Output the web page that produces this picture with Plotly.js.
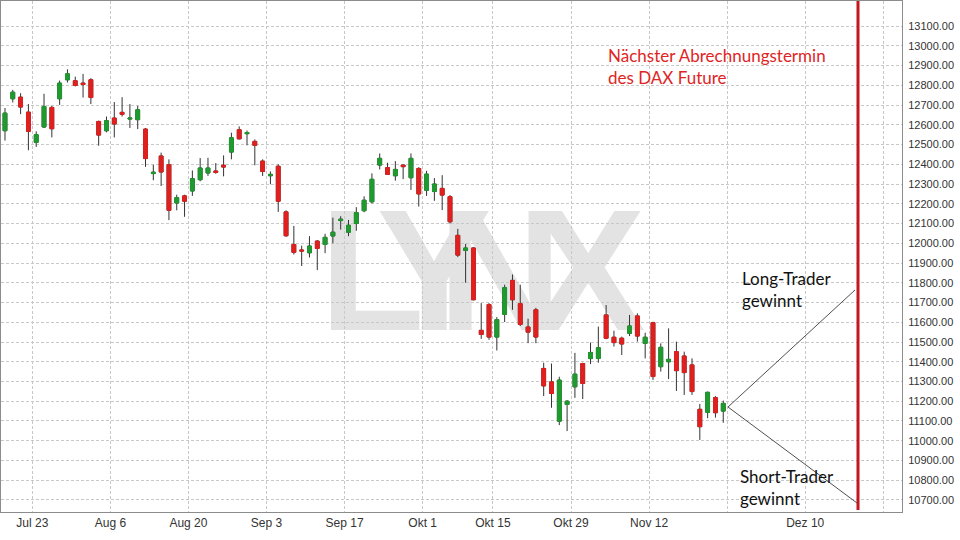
<!DOCTYPE html>
<html>
<head>
<meta charset="utf-8">
<script src="https://cdn.plot.ly/plotly-3.0.1.min.js"></script>
<style>html,body{margin:0;padding:0;background:#fff;}#chart{width:960px;height:540px;}</style>
</head>
<body>
<div id="chart"></div>
<script>
// Trading days shown (DAX, Jul 17 – Nov 23 2018; Oct 3 holiday)
const dates = [
 '2018-07-17','2018-07-18','2018-07-19','2018-07-20','2018-07-23','2018-07-24','2018-07-25','2018-07-26','2018-07-27','2018-07-30','2018-07-31',
 '2018-08-01','2018-08-02','2018-08-03','2018-08-06','2018-08-07','2018-08-08','2018-08-09','2018-08-10','2018-08-13','2018-08-14','2018-08-15',
 '2018-08-16','2018-08-17','2018-08-20','2018-08-21','2018-08-22','2018-08-23','2018-08-24','2018-08-27','2018-08-28','2018-08-29','2018-08-30','2018-08-31',
 '2018-09-03','2018-09-04','2018-09-05','2018-09-06','2018-09-07','2018-09-10','2018-09-11','2018-09-12','2018-09-13','2018-09-14','2018-09-17',
 '2018-09-18','2018-09-19','2018-09-20','2018-09-21','2018-09-24','2018-09-25','2018-09-26','2018-09-27','2018-09-28',
 '2018-10-01','2018-10-02','2018-10-04','2018-10-05','2018-10-08','2018-10-09','2018-10-10','2018-10-11','2018-10-12','2018-10-15','2018-10-16',
 '2018-10-17','2018-10-18','2018-10-19','2018-10-22','2018-10-23','2018-10-24','2018-10-25','2018-10-26','2018-10-29','2018-10-30','2018-10-31',
 '2018-11-01','2018-11-02','2018-11-05','2018-11-06','2018-11-07','2018-11-08','2018-11-09','2018-11-12','2018-11-13','2018-11-14','2018-11-15',
 '2018-11-16','2018-11-19','2018-11-20','2018-11-21','2018-11-22','2018-11-23'
];
const openP = [
 12570,12732,12740,12664,12511,12589,12688,12732,12828,12823,12811,
 12828,12617,12570,12634,12663,12629,12626,12578,12353,12442,12398,
 12204,12240,12265,12322,12356,12366,12395,12462,12575,12555,12516,12416,
 12342,12390,12159,11994,11966,11952,12011,11994,12037,12115,12056,
 12100,12165,12210,12396,12383,12342,12396,12332,12379,
 12268,12262,12278,12236,12040,11964,11976,11559,11690,11525,11640,
 11812,11694,11576,11663,11366,11298,11099,11184,11273,11391,11416,
 11417,11637,11524,11519,11544,11632,11493,11598,11375,11400,11451,
 11429,11384,11159,11144,11218,11150
];
const highP = [
 12685,12777,12760,12705,12567,12757,12696,12824,12881,12844,12858,
 12836,12621,12642,12715,12740,12705,12696,12584,12398,12459,12425,
 12246,12246,12369,12432,12433,12406,12445,12560,12592,12571,12526,12425,
 12364,12400,12167,12088,11988,12036,12016,12048,12130,12137,12118,
 12183,12238,12354,12455,12408,12416,12398,12455,12385,
 12367,12330,12345,12244,12073,11997,11981,11697,11697,11626,11790,
 11842,11790,11618,11673,11395,11391,11324,11206,11445,11395,11497,
 11578,11687,11557,11527,11637,11645,11547,11603,11493,11569,11502,
 11451,11417,11186,11249,11226,11203
];
const lowP = [
 12520,12713,12654,12471,12488,12584,12536,12701,12814,12794,12738,
 12705,12494,12562,12536,12642,12584,12578,12387,12319,12290,12117,
 12167,12134,12240,12314,12341,12352,12339,12425,12526,12496,12395,12341,
 12299,12159,12033,11943,11885,11928,11864,11950,12000,12069,12036,
 12063,12157,12202,12374,12346,12317,12325,12270,12186,
 12240,12215,12168,12100,11930,11800,11711,11516,11511,11457,11601,
 11663,11581,11494,11494,11226,11167,11079,11049,11217,11211,11388,
 11395,11514,11477,11434,11530,11502,11417,11308,11350,11312,11252,
 11232,11232,11004,11114,11117,11091
];
const closeP = [
 12659,12765,12690,12567,12550,12693,12580,12811,12858,12799,12804,
 12738,12548,12621,12604,12653,12634,12676,12429,12360,12361,12167,
 12231,12213,12327,12381,12381,12359,12386,12534,12529,12561,12496,12364,
 12349,12213,12038,11954,11961,11986,11974,12030,12056,12122,12091,
 12155,12218,12324,12430,12349,12374,12388,12430,12250,
 12350,12300,12244,12109,11940,11976,11714,11538,11525,11613,11775,
 11714,11589,11550,11525,11278,11239,11307,11200,11337,11290,11447,
 11471,11519,11497,11490,11581,11530,11524,11325,11473,11412,11355,
 11345,11249,11071,11245,11142,11189
];
// Axis ticks
const xTickDates = ['2018-07-23','2018-08-06','2018-08-20','2018-09-03','2018-09-17','2018-10-01','2018-10-15','2018-10-29','2018-11-12','2018-11-26','2018-12-10','2018-12-24'];
const xTickLabels = ['Jul 23','Aug 6','Aug 20','Sep 3','Sep 17','Okt 1','Okt 15','Okt 29','Nov 12','','Dez 10',''];
const yTicks = [10700,10800,10900,11000,11100,11200,11300,11400,11500,11600,11700,11800,11900,12000,12100,12200,12300,12400,12500,12600,12700,12800,12900,13000,13100];
const holidays = ['2018-10-03'];
const settlementLabel = 'Nächster Abrechnungstermin<br>des DAX Future';
const longLabel = 'Long-Trader<br>gewinnt';
const shortLabel = 'Short-Trader<br>gewinnt';
const watermark = ['L','Y','N','X'];

const UP = '#1f9a2f', DOWN = '#e0201f', WICK = '#333333';
const xs = dates.map(d => d + ' 12:00');
const bodyHigh = openP.map((o, i) => Math.max(o, closeP[i]));
const bodyLow = openP.map((o, i) => Math.min(o, closeP[i]));

const traces = [
  {type:'candlestick', x:xs, open:openP, high:highP, low:lowP, close:closeP,
   increasing:{line:{color:WICK,width:1}, fillcolor:UP},
   decreasing:{line:{color:WICK,width:1}, fillcolor:DOWN},
   whiskerwidth:0, hoverinfo:'skip', showlegend:false},
  {type:'candlestick', x:xs, open:openP, high:bodyHigh, low:bodyLow, close:closeP,
   increasing:{line:{color:UP,width:1}, fillcolor:UP},
   decreasing:{line:{color:DOWN,width:1}, fillcolor:DOWN},
   whiskerwidth:0, hoverinfo:'skip', showlegend:false}
];

const W = 901, H = 511; // plot area in px (offset 1,1)
const px = v => (v - 1) / W;
const py = v => 1 - (v - 1) / H;

const wmCenters = [372, 434, 500, 588];
const wmShapes = watermark.map((ch, i) => ({
  type:'rect', xref:'paper', yref:'paper', layer:'below',
  x0:px(wmCenters[i]-70), x1:px(wmCenters[i]+70), y0:py(326), y1:py(181),
  line:{width:0}, fillcolor:'rgba(0,0,0,0)',
  label:{text:ch, textposition:'middle center',
         font:{family:'Liberation Sans, Arial, sans-serif', size:172, color:'#e3e3e3', weight:700}}
}));

const layout = {
  width:960, height:540,
  margin:{l:1, r:58, t:1, b:28},
  paper_bgcolor:'#ffffff', plot_bgcolor:'#ffffff',
  showlegend:false, hovermode:false,
  xaxis:{
    type:'date',
    range:['2018-07-16 23:45','2018-12-26 09:30'],
    rangebreaks:[{bounds:['sat','mon']},{values:holidays}],
    rangeslider:{visible:false},
    tickmode:'array', tickvals:xTickDates, ticktext:xTickLabels,
    showgrid:true, gridcolor:'#c8c8c8', griddash:'3px,2px', gridwidth:1,
    showline:true, linecolor:'#8c8c8c', linewidth:1, mirror:true,
    ticks:'', zeroline:false,
    tickfont:{family:'Liberation Sans Narrow, Liberation Sans, Arial, sans-serif', size:12, color:'#333333'}
  },
  yaxis:{
    side:'right',
    range:[10639, 13227],
    tickmode:'array', tickvals:yTicks, tickformat:'.2f',
    showgrid:true, gridcolor:'#c8c8c8', griddash:'3px,2px', gridwidth:1,
    showline:true, linecolor:'#8c8c8c', linewidth:1, mirror:true,
    ticks:'', zeroline:false, ticklabelstandoff:3,
    tickfont:{family:'Liberation Sans, Arial, sans-serif', size:11, color:'#333333'}
  },
  shapes: wmShapes.concat([
    {type:'line', xref:'paper', yref:'paper', x0:px(858), x1:px(858), y0:py(510), y1:1,
     line:{color:'#c4161c', width:3}},
    {type:'line', xref:'paper', yref:'paper', x0:px(728), y0:py(407), x1:px(855), y1:py(290),
     line:{color:'#505050', width:1}},
    {type:'line', xref:'paper', yref:'paper', x0:px(728), y0:py(407), x1:px(857), y1:py(503),
     line:{color:'#505050', width:1}}
  ]),
  annotations:[
    {xref:'paper', yref:'paper', x:px(606), y:py(66.5), xanchor:'left', yanchor:'middle', align:'left',
     showarrow:false, text:settlementLabel, font:{family:'Lato, Open Sans, sans-serif', size:17, color:'#e02424'}},
    {xref:'paper', yref:'paper', x:px(740), y:py(289), xanchor:'left', yanchor:'middle', align:'left',
     showarrow:false, text:longLabel, font:{family:'Lato, Open Sans, sans-serif', size:17, color:'#111111'}},
    {xref:'paper', yref:'paper', x:px(738), y:py(487), xanchor:'left', yanchor:'middle', align:'left',
     showarrow:false, text:shortLabel, font:{family:'Lato, Open Sans, sans-serif', size:17, color:'#111111'}}
  ]
};

Plotly.newPlot('chart', traces, layout, {displayModeBar:false, staticPlot:true});
</script>
</body>
</html>
